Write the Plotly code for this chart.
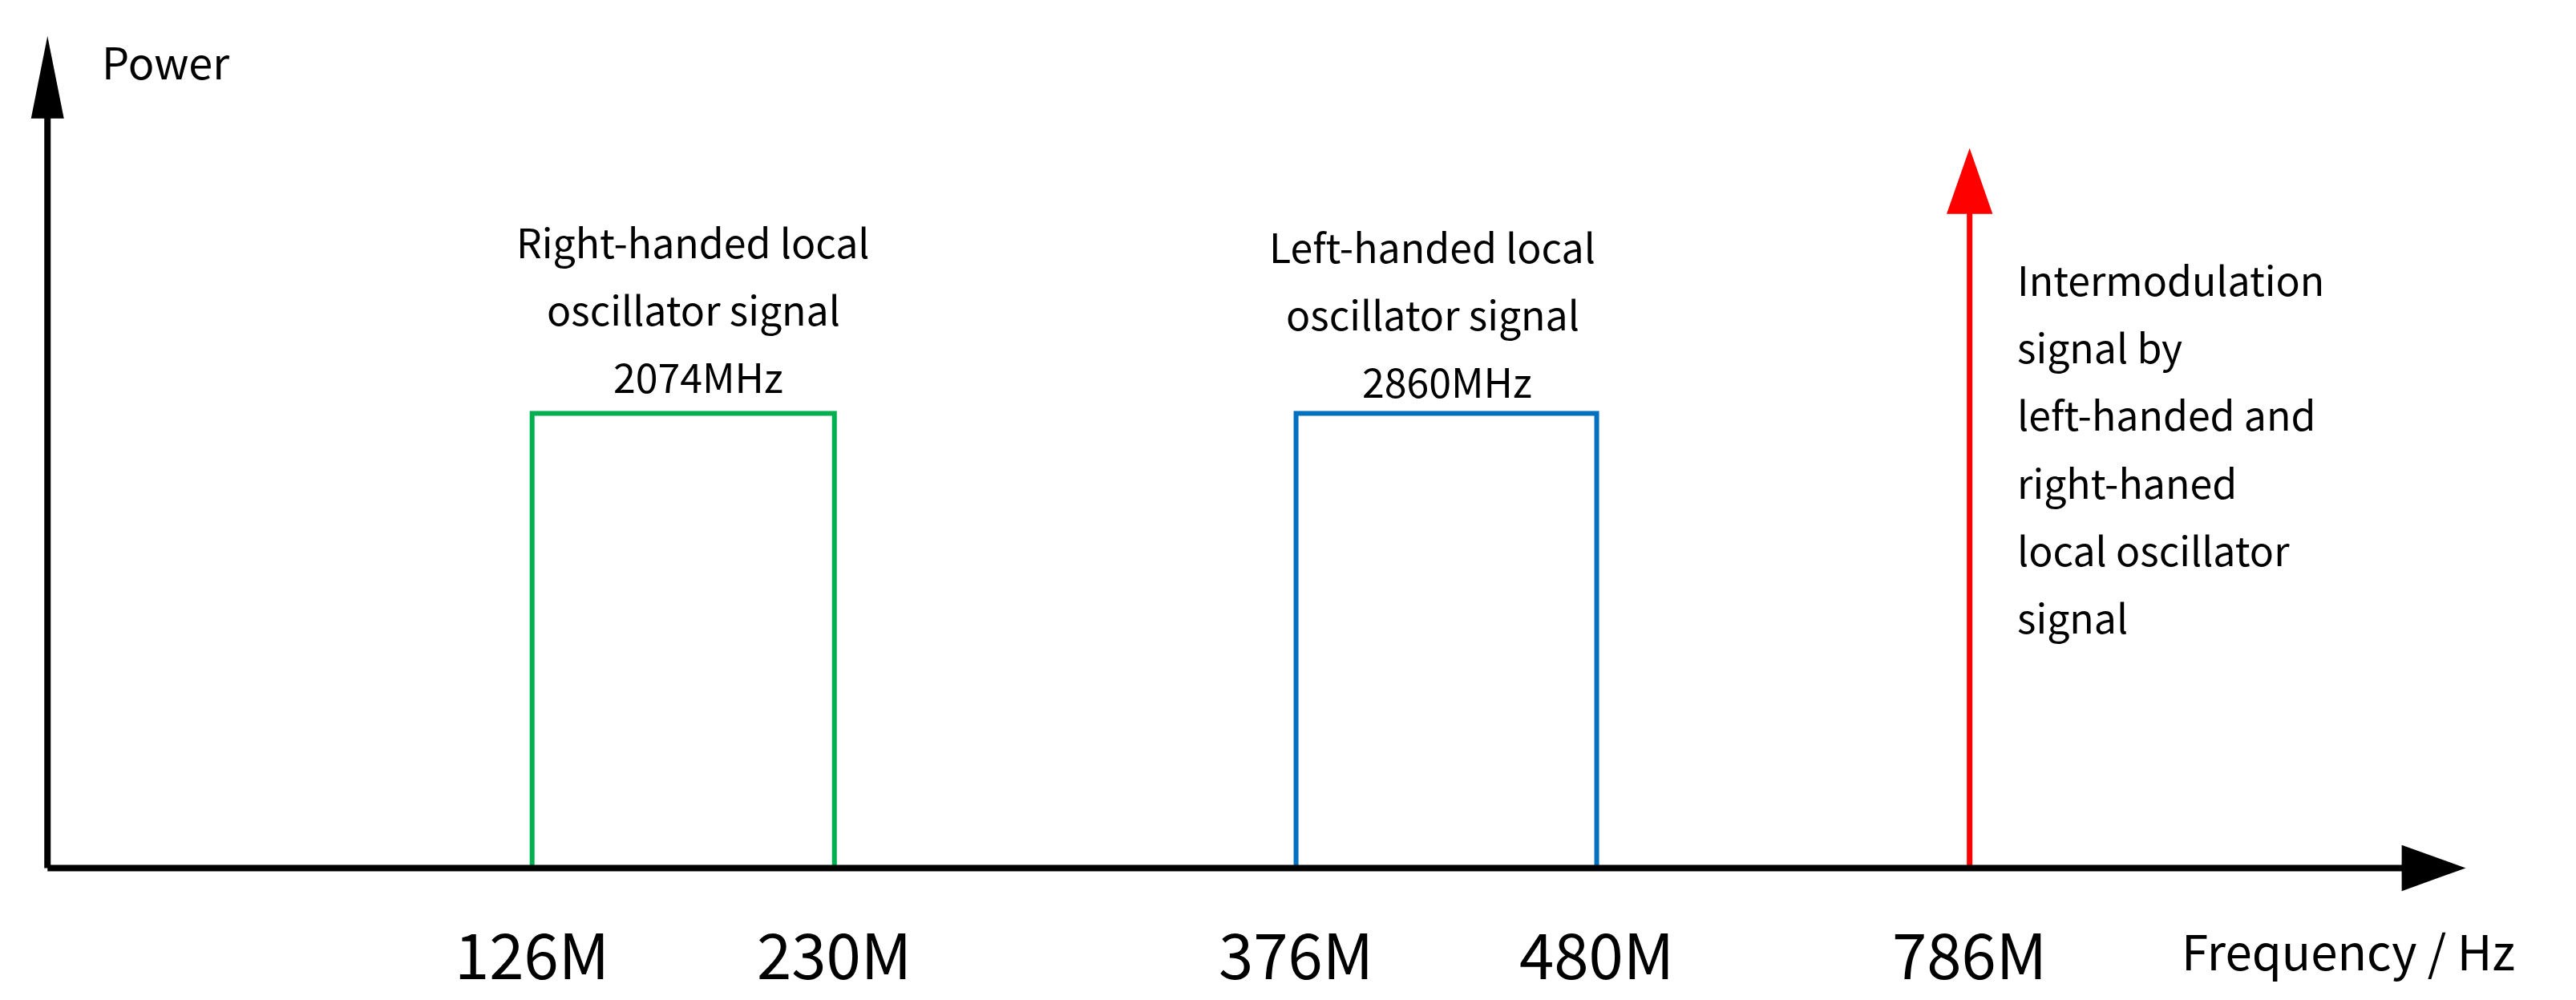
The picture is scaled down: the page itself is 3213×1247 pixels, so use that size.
import plotly.graph_objects as go

# schematic, not to scale: tick positions along the drawn frequency axis
tick_labels = ["126M", "230M", "376M", "480M", "786M"]
tick_pos = [320, 504, 785, 968, 1195]

box_level = 276
im_level = 437

right_text = ["Right-handed local", "oscillator signal", "2074MHz"]
left_text = ["Left-handed local", "oscillator signal", "2860MHz"]
im_text = ["Intermodulation", "signal by", "left-handed and", "right-haned",
           "local oscillator", "signal"]

FONT = "Noto Sans CJK SC"
fig = go.Figure()

fig.add_trace(go.Scatter(x=[tick_pos[0], tick_pos[0], tick_pos[1], tick_pos[1]],
                         y=[0, box_level, box_level, 0], mode="lines",
                         line=dict(color="#00b050", width=6)))
fig.add_trace(go.Scatter(x=[tick_pos[2], tick_pos[2], tick_pos[3], tick_pos[3]],
                         y=[0, box_level, box_level, 0], mode="lines",
                         line=dict(color="#0070c0", width=6)))
fig.add_trace(go.Scatter(x=[tick_pos[4], tick_pos[4]], y=[0, im_level - 35], mode="lines",
                         line=dict(color="#ff0000", width=7)))

shapes = [
    dict(type="line", x0=25, x1=1462, y0=0, y1=0, line=dict(color="black", width=8)),
    dict(type="line", x0=25, x1=25, y0=0, y1=460, line=dict(color="black", width=8)),
    dict(type="path", path="M 1458 -14 L 1497 0 L 1458 14 Z", fillcolor="black", line=dict(width=0)),
    dict(type="path", path="M 15 455 L 25 505 L 35 455 Z", fillcolor="black", line=dict(width=0)),
    dict(type="path", path=f"M {tick_pos[4]-14} {im_level-40} L {tick_pos[4]} {im_level} L {tick_pos[4]+14} {im_level-40} Z",
         fillcolor="#ff0000", line=dict(width=0)),
]

ann = []
def add(t, x, y, size, xanchor="center"):
    ann.append(dict(text=t, x=x, y=y, xref="x", yref="y", showarrow=False,
                    xanchor=xanchor, yanchor="middle",
                    font=dict(family=FONT, size=size, color="black")))

for i, t in enumerate(right_text):
    add(t, 418 if i < 2 else 421, 523 - (142 + 41 * i), 50)
for i, t in enumerate(left_text):
    add(t, 868 if i < 2 else 877, 523 - (145 + 41 * i), 50)
for i, t in enumerate(im_text):
    add(t, 1223, 523 - (165 + 41 * i), 50, "left")
for t, p in zip(tick_labels, tick_pos):
    add(t, p, 523 - 574, 78)
add("Power", 57, 523 - 33, 54, "left")
add("Frequency / Hz", 1323, 523 - 572, 60, "left")

fig.update_layout(width=3213, height=1247, margin=dict(l=0, r=0, t=0, b=0),
                  plot_bgcolor="white", paper_bgcolor="white", showlegend=False,
                  shapes=shapes, annotations=ann,
                  xaxis=dict(range=[0, 1568], visible=False),
                  yaxis=dict(range=[-84, 523], visible=False))
fig.write_html("out.html")
